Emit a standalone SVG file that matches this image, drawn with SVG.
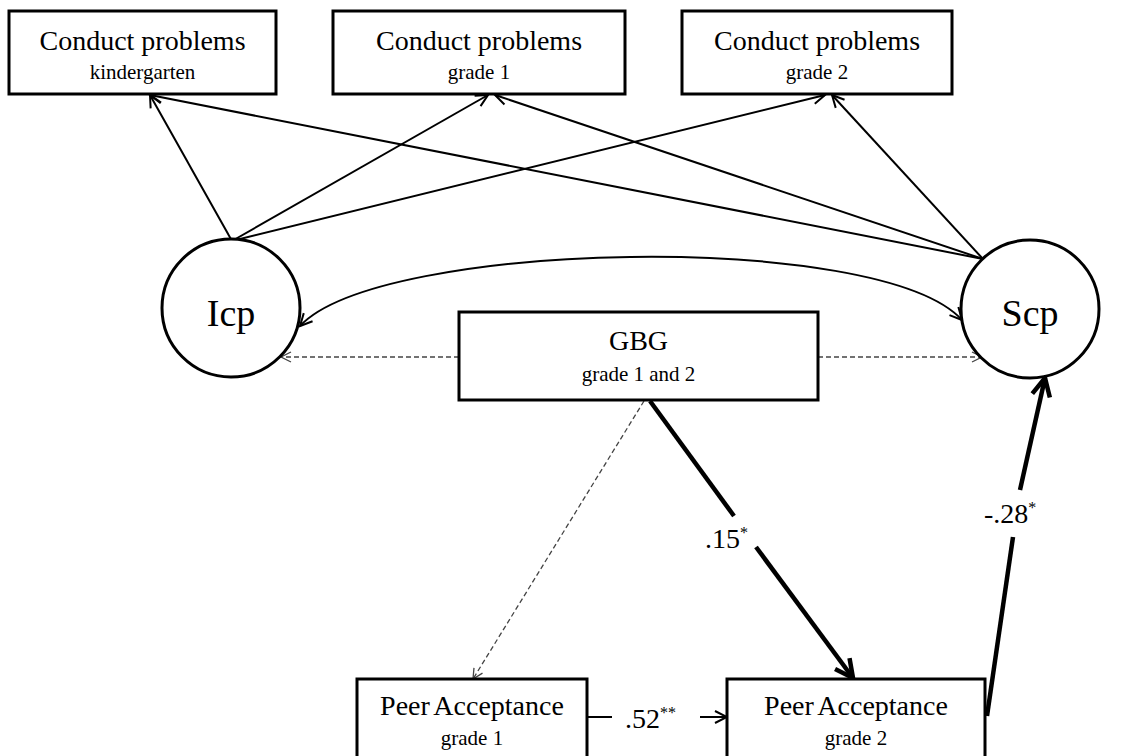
<svg xmlns="http://www.w3.org/2000/svg" width="1128" height="756" viewBox="0 0 1128 756">
<defs>
<style>
.box{fill:#fff;stroke:#000;stroke-width:3}
.circ{fill:#fff;stroke:#000;stroke-width:3}
.main{font-family:"Liberation Serif","Times New Roman",serif;font-size:28px;fill:#000;text-anchor:middle}
.pmain{font-family:"Liberation Serif","Times New Roman",serif;font-size:28px;fill:#000;text-anchor:middle;word-spacing:-2px}
.sub{font-family:"Liberation Serif","Times New Roman",serif;font-size:21px;fill:#000;text-anchor:middle}
.big{font-family:"Liberation Serif","Times New Roman",serif;font-size:38px;fill:#000;text-anchor:middle}
.lab{font-family:"Liberation Serif","Times New Roman",serif;font-size:28px;fill:#000}
.sup{font-size:16px}
.thin{fill:none;stroke:#000;stroke-width:2}
.bold{fill:none;stroke:#000;stroke-width:4.5}
.dash{fill:none;stroke:#444;stroke-width:1.3;stroke-dasharray:5,3}
</style>
<marker id="ah" markerUnits="userSpaceOnUse" markerWidth="16" markerHeight="16" viewBox="0 0 16 16" refX="14" refY="8" orient="auto-start-reverse">
<path d="M2,2 L14,8 L2,14" fill="none" stroke="#000" stroke-width="2"/>
</marker>
<marker id="ahb" markerUnits="userSpaceOnUse" markerWidth="24" markerHeight="24" viewBox="0 0 24 24" refX="21" refY="12" orient="auto">
<path d="M3,3 L21,12 L3,21" fill="none" stroke="#000" stroke-width="4.5"/>
</marker>
<marker id="ahd" markerUnits="userSpaceOnUse" markerWidth="14" markerHeight="14" viewBox="0 0 14 14" refX="12" refY="7" orient="auto">
<path d="M2,2 L12,7 L2,12" fill="none" stroke="#444" stroke-width="1.3"/>
</marker>
</defs>
<rect width="1128" height="756" fill="#fff"/>

<g id="connectors">
<line class="thin" x1="232" y1="241" x2="150" y2="95" marker-end="url(#ah)"/>
<line class="thin" x1="232" y1="241" x2="488" y2="95" marker-end="url(#ah)"/>
<line class="thin" x1="232" y1="241" x2="825" y2="95" marker-end="url(#ah)"/>
<line class="thin" x1="983" y1="259" x2="150" y2="95" marker-end="url(#ah)"/>
<line class="thin" x1="983" y1="259" x2="495" y2="95" marker-end="url(#ah)"/>
<line class="thin" x1="983" y1="259" x2="832" y2="95" marker-end="url(#ah)"/>
<path class="thin" d="M300,326 C380,240 880,230 962,320" marker-start="url(#ah)" marker-end="url(#ah)"/>
<line class="dash" x1="459" y1="357" x2="281" y2="357" marker-end="url(#ahd)"/>
<line class="dash" x1="818" y1="357" x2="982" y2="357" marker-end="url(#ahd)"/>
<line class="dash" x1="644" y1="401" x2="473" y2="679" marker-end="url(#ahd)"/>
<line class="bold" x1="650" y1="401" x2="734" y2="516"/>
<line class="bold" x1="756" y1="547" x2="853" y2="678" marker-end="url(#ahb)"/>
<line class="bold" x1="987" y1="716" x2="1013" y2="537"/>
<line class="bold" x1="1020" y1="490" x2="1045" y2="378" marker-end="url(#ahb)"/>
<line class="thin" x1="587" y1="717" x2="612" y2="717"/>
<line class="thin" x1="700" y1="717" x2="727" y2="717" marker-end="url(#ah)"/>
<text class="lab" x="705" y="548">.15<tspan class="sup" dy="-10">*</tspan></text>
<text class="lab" x="984" y="523">-.28<tspan class="sup" dy="-10">*</tspan></text>
<text class="lab" x="625" y="728">.52<tspan class="sup" dy="-10">**</tspan></text>
</g>

<g id="cp-k">
<rect class="box" x="9" y="11" width="267" height="83"/>
<text class="main" x="142.5" y="50">Conduct problems</text>
<text class="sub" x="142.5" y="79">kindergarten</text>
</g>
<g id="cp-g1">
<rect class="box" x="333" y="11" width="292" height="83"/>
<text class="main" x="479" y="50">Conduct problems</text>
<text class="sub" x="479" y="79">grade 1</text>
</g>
<g id="cp-g2">
<rect class="box" x="682" y="11" width="270" height="83"/>
<text class="main" x="817" y="50">Conduct problems</text>
<text class="sub" x="817" y="79">grade 2</text>
</g>
<g id="icp">
<circle class="circ" cx="231" cy="308" r="69"/>
<text class="big" x="231" y="326">Icp</text>
</g>
<g id="scp">
<circle class="circ" cx="1030" cy="309" r="69"/>
<text class="big" x="1030" y="326">Scp</text>
</g>
<g id="gbg">
<rect class="box" x="459" y="312" width="359" height="88"/>
<text class="main" x="638.5" y="350">GBG</text>
<text class="sub" x="638.5" y="381">grade 1 and 2</text>
</g>
<g id="pa1">
<rect class="box" x="357" y="679" width="230" height="90"/>
<text class="pmain" x="472" y="715">Peer Acceptance</text>
<text class="sub" x="472" y="745">grade 1</text>
</g>
<g id="pa2">
<rect class="box" x="727" y="679" width="258" height="90"/>
<text class="pmain" x="856" y="715">Peer Acceptance</text>
<text class="sub" x="856" y="745">grade 2</text>
</g>
</svg>
